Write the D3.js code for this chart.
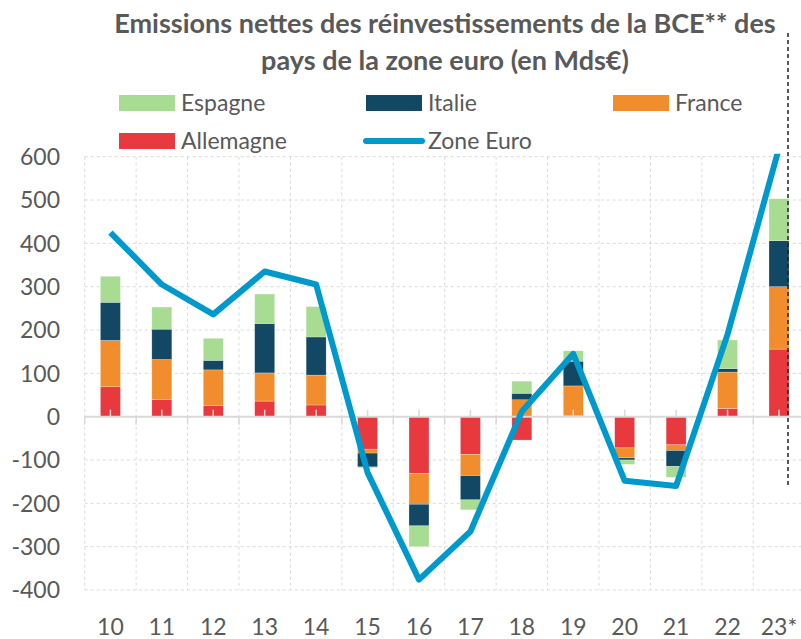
<!doctype html>
<html lang="fr">
<head>
  <meta charset="utf-8">
  <script src="https://cdnjs.cloudflare.com/ajax/libs/d3/7.8.5/d3.min.js"></script>
  <style>
      html, body{width:100%; height:100%; margin:0px; padding:0px; background:white;}
      svg{display:block;}
      text{font-family:Lato, sans-serif; fill:#595959;}
      .title{font-weight:bold; font-size:27px;}
      .tick{font-size:23px;}
      .legend{font-size:23px;}
  </style>
</head>
<body>
<div id="view"></div>

<script>
// chart data (Mds EUR)
var years = ["10","11","12","13","14","15","16","17","18","19","20","21","22","23*"];
var allemagne = [69, 40, 26, 36, 27, -75, -131, -87, -54, 2, -72, -65, 19, 156];
var france    = [107, 92, 82, 65, 69, -9, -71, -49, 39, 69, -23, -13, 84, 144];
var italie    = [88, 70, 22, 114, 88, -32, -50, -56, 15, 57, -5, -37, 8, 106];
var espagne   = [60, 51, 51, 68, 70, -2, -48, -23, 28, 24, -10, -25, 66, 97];
var zoneEuro  = [425, 305, 236, 335, 305, -129, -376, -265, 12, 145, -148, -160, 190, 620];
var yTicks = [-400, -300, -200, -100, 0, 100, 200, 300, 400, 500, 600];

var series = [
  {key:"allemagne", label:"Allemagne", color:"#e8393f", values:allemagne},
  {key:"france",    label:"France",    color:"#f18d2d", values:france},
  {key:"italie",    label:"Italie",    color:"#124863", values:italie},
  {key:"espagne",   label:"Espagne",   color:"#a8dc93", values:espagne}
];

var W = 801, H = 639;
var plotLeft = 84.7, plotRight = 804.7, plotTop = 156.7, plotBottom = 590;

var svg = d3.select("#view").append("svg")
    .attr("width", W)
    .attr("height", H);

var x = d3.scaleBand().domain(years).range([plotLeft, plotRight]);
var y = d3.scaleLinear().domain([-400, 600]).range([plotBottom, plotTop]);
var barW = 20;

// grid, dashed
var grid = svg.append("g").attr("stroke", "#d9d9d9").attr("stroke-dasharray", "3,3").attr("stroke-width", 1);
grid.selectAll(".h").data(yTicks.filter(function(t){return t != 0;})).enter().append("line")
    .attr("x1", plotLeft).attr("x2", W)
    .attr("y1", function(d){return y(d);}).attr("y2", function(d){return y(d);});
grid.selectAll(".v").data(years).enter().append("line")
    .attr("x1", function(d){return x(d);}).attr("x2", function(d){return x(d);})
    .attr("y1", plotTop).attr("y2", plotBottom);

// stacked bars
var rows = years.map(function(yr, i){
  var r = {year:yr};
  series.forEach(function(s){ r[s.key] = s.values[i]; });
  return r;
});
var stack = d3.stack().keys(series.map(function(s){return s.key;})).offset(d3.stackOffsetDiverging);
var layers = stack(rows);

svg.append("g").selectAll("g").data(layers).enter().append("g")
    .attr("fill", function(d, i){return series[i].color;})
  .selectAll("rect").data(function(d){return d;}).enter().append("rect")
    .attr("x", function(d){return x(d.data.year) + (x.bandwidth() - barW) / 2;})
    .attr("width", barW)
    .attr("y", function(d){return y(Math.max(d[0], d[1]));})
    .attr("height", function(d){return Math.abs(y(d[0]) - y(d[1]));})
    .attr("stroke", "rgba(255,255,255,0.5)")
    .attr("stroke-width", 0.5);

// zero axis and its ticks
var axis = svg.append("g").attr("stroke", "#d9d9d9");
axis.append("line").attr("x1", plotLeft).attr("x2", W).attr("y1", y(0)).attr("y2", y(0)).attr("stroke-width", 2);
axis.selectAll(".b").data(years).enter().append("line")
    .attr("x1", function(d){return x(d);}).attr("x2", function(d){return x(d);})
    .attr("y1", y(0)).attr("y2", y(0) + 8).attr("stroke-width", 1.5);
axis.selectAll(".c").data(years).enter().append("line")
    .attr("x1", function(d){return x(d) + x.bandwidth() / 2;}).attr("x2", function(d){return x(d) + x.bandwidth() / 2;})
    .attr("y1", y(0)).attr("y2", y(0) - 7).attr("stroke-width", 1.5);

// zone euro line, clipped to the plot
svg.append("clipPath").attr("id", "plot").append("rect")
    .attr("x", 0).attr("y", plotTop - 3).attr("width", W).attr("height", plotBottom - plotTop + 40);
var line = d3.line()
    .x(function(d, i){return x(years[i]) + x.bandwidth() / 2;})
    .y(function(d){return y(d);});
svg.append("path").datum(zoneEuro)
    .attr("clip-path", "url(#plot)")
    .attr("d", line)
    .attr("fill", "none")
    .attr("stroke", "#0099cc")
    .attr("stroke-width", 6)
    .attr("stroke-linejoin", "round");

// dashed separator for the forecast
svg.append("line")
    .attr("x1", 788).attr("x2", 788)
    .attr("y1", 33).attr("y2", y(-158))
    .attr("stroke", "#222").attr("stroke-width", 1.5).attr("stroke-dasharray", "4,3");

// axis labels
svg.append("g").selectAll("text").data(yTicks).enter().append("text")
    .attr("class", "tick")
    .attr("x", 60).attr("y", function(d){return y(d);})
    .attr("dy", "0.36em")
    .attr("text-anchor", "end")
    .text(function(d){return d;});
svg.append("g").selectAll("text").data(years).enter().append("text")
    .attr("class", "tick")
    .attr("x", function(d){return x(d) + x.bandwidth() / 2;}).attr("y", 635)
    .attr("text-anchor", "middle")
    .text(function(d){return d;});

// title
svg.append("text").attr("class", "title").attr("x", 445).attr("y", 33).attr("text-anchor", "middle")
    .text("Emissions nettes des réinvestissements de la BCE** des");
svg.append("text").attr("class", "title").attr("x", 445).attr("y", 70).attr("text-anchor", "middle")
    .text("pays de la zone euro (en Mds€)");

// legend
var legendItems = [
  {label:"Espagne",   color:"#a8dc93", x:119, y:103, type:"box"},
  {label:"Italie",    color:"#124863", x:366, y:103, type:"box"},
  {label:"France",    color:"#f18d2d", x:613, y:103, type:"box"},
  {label:"Allemagne", color:"#e8393f", x:119, y:141, type:"box"},
  {label:"Zone Euro", color:"#0099cc", x:366, y:141, type:"line"}
];
var lg = svg.append("g").selectAll("g").data(legendItems).enter().append("g");
lg.filter(function(d){return d.type == "box";}).append("rect")
    .attr("x", function(d){return d.x;}).attr("y", function(d){return d.y - 8;})
    .attr("width", 56).attr("height", 16)
    .attr("fill", function(d){return d.color;});
lg.filter(function(d){return d.type == "line";}).append("line")
    .attr("x1", function(d){return d.x;}).attr("x2", function(d){return d.x + 56;})
    .attr("y1", function(d){return d.y;}).attr("y2", function(d){return d.y;})
    .attr("stroke", function(d){return d.color;}).attr("stroke-width", 6).attr("stroke-linecap", "round");
lg.append("text")
    .attr("class", "legend")
    .attr("x", function(d){return d.x + 62;}).attr("y", function(d){return d.y + 8;})
    .text(function(d){return d.label;});
</script>
</body>
</html>
